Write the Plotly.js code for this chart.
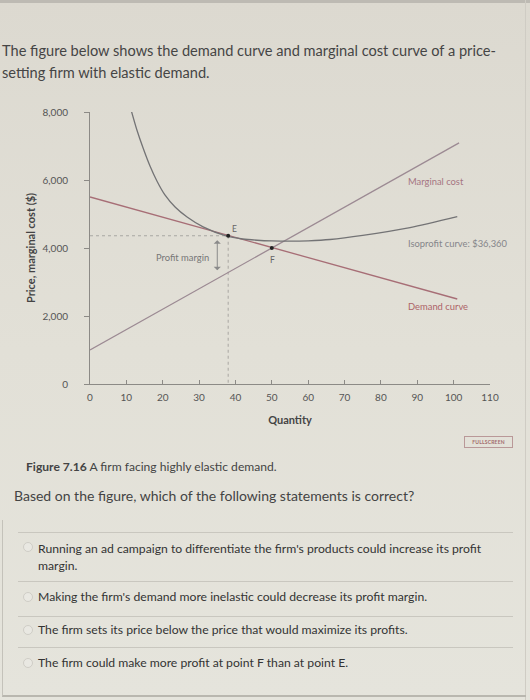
<!DOCTYPE html>
<html>
<head>
<meta charset="utf-8">
<script src="https://cdn.plot.ly/plotly-3.0.1.min.js"></script>
<style>
  html, body { margin:0; padding:0; }
  body { width:530px; height:700px; overflow:hidden; position:relative;
         background: linear-gradient(180deg, #dcd9d0 0%, #e2e0d7 50%, #e5e4dc 100%);
         font-family: Lato, "Open Sans", sans-serif; }
  #plot { position:absolute; left:0; top:0; width:530px; height:700px; }
  .t { position:absolute; white-space:nowrap; color:#3f3f3f; }
  .sep { position:absolute; height:1px; background:#c9c7bf; }
  .radio { position:absolute; width:8px; height:8px; border-radius:50%; border:1px solid #cfcdc6; background:#e9e8e2; }
</style>
</head>
<body>
<div id="plot"></div>
<div style="position:absolute;left:0;top:0;width:530px;height:3px;background:#bdbab3;"></div>
<div style="position:absolute;left:525px;top:0;width:1px;height:700px;background:#cfccc4;"></div>
<div class="t" style="left:2px;top:40px;font-size:14.6px;line-height:22px;color:#454545;">The figure below shows the demand curve and marginal cost curve of a price-<br>setting firm with elastic demand.</div>
<div style="position:absolute;left:464px;top:436px;width:47px;height:10px;border:1px solid #b99898;font-size:5px;line-height:10px;color:#a26c6c;text-align:center;font-weight:bold;letter-spacing:0.2px;">FULLSCREEN</div>
<div class="t" style="left:26px;top:459px;font-size:12.1px;color:#444;"><b>Figure 7.16</b> A firm facing highly elastic demand.</div>
<div class="t" style="left:14px;top:487px;font-size:14px;color:#444;">Based on the figure, which of the following statements is correct?</div>
<div style="position:absolute;left:2px;top:520px;width:523px;height:175px;border-left:1px solid #c4c2ba;border-bottom:2px solid #b9b7af;"></div>
<div class="sep" style="left:18px;top:532px;width:495px;"></div>
<div class="sep" style="left:18px;top:581px;width:495px;"></div>
<div class="sep" style="left:18px;top:616px;width:495px;"></div>
<div class="sep" style="left:18px;top:647px;width:495px;"></div>
<div class="radio" style="left:23px;top:542px;"></div>
<div class="radio" style="left:23px;top:592px;"></div>
<div class="radio" style="left:23px;top:625px;"></div>
<div class="radio" style="left:23px;top:658px;"></div>
<div class="t" style="left:38px;top:540px;font-size:12.2px;line-height:17px;color:#333;">Running an ad campaign to differentiate the firm's products could increase its profit<br>margin.</div>
<div class="t" style="left:38px;top:589px;font-size:12.2px;color:#333;">Making the firm's demand more inelastic could decrease its profit margin.</div>
<div class="t" style="left:38px;top:622px;font-size:12.2px;color:#333;">The firm sets its price below the price that would maximize its profits.</div>
<div class="t" style="left:38px;top:655px;font-size:12.2px;color:#333;">The firm could make more profit at point F than at point E.</div>
<script>
// ---- data ----
const demandQ = [0, 101];
const demandP = [5500, 2500];
const mcQ = [0, 101.5];
const mcP = [1000, 7090];
const isoQ = [11.3, 12.9, 14.6, 16.5, 18.4, 20.6, 23.4, 26.7, 31.1, 37.4, 42, 46, 50, 55, 60, 66, 75, 88, 101];
const isoP = [8060, 7470, 6940, 6410, 5970, 5560, 5205, 4910, 4620, 4355, 4265, 4228, 4208, 4200, 4212, 4250, 4370, 4600, 4920];
const pointE = {q: 38, p: 4360};
const pointF = {q: 50, p: 4000};
const marginTop = 4230, marginBottom = 3300, marginQ = 35;
const xTicks = [0,10,20,30,40,50,60,70,80,90,100,110];
const yTicks = [0,2000,4000,6000,8000];
const yTickText = ['0','2,000','4,000','6,000','8,000'];

const traces = [
  {x:[0, pointE.q], y:[pointE.p, pointE.p], mode:'lines', line:{color:'#a9a7a2', width:1, dash:'dot'}, hoverinfo:'skip'},
  {x:[pointE.q, pointE.q], y:[pointE.p, 0], mode:'lines', line:{color:'#a9a7a2', width:1, dash:'dot'}, hoverinfo:'skip'},
  {x:demandQ, y:demandP, mode:'lines', line:{color:'#a76e76', width:1.3}},
  {x:mcQ, y:mcP, mode:'lines', line:{color:'#9c8a93', width:1.3}},
  {x:isoQ, y:isoP, mode:'lines', line:{color:'#737375', width:1.3, shape:'spline', smoothing:0.8}},
  {x:[pointE.q, pointF.q], y:[pointE.p, pointF.p], mode:'markers', marker:{color:'#222', size:4}}
];

const small = {family:'Lato, "Open Sans", sans-serif', size:9.4};
const layout = {
  width:530, height:700,
  margin:{l:90, r:40, t:112, b:316},
  paper_bgcolor:'rgba(0,0,0,0)', plot_bgcolor:'rgba(0,0,0,0)',
  showlegend:false,
  font:{family:'Lato, "Open Sans", sans-serif', color:'#555'},
  xaxis:{range:[0,110], tickvals:xTicks, ticktext:xTicks.map(String), showgrid:false, zeroline:false,
         showline:true, linecolor:'#8c8a86', linewidth:1, ticks:'inside', ticklen:4, tickcolor:'#8c8a86',
         tickfont:{size:10, color:'#555'}, ticklabelstandoff:4,
         title:{text:'<b>Quantity</b>', font:{size:11, color:'#444'}, standoff:14}},
  yaxis:{range:[0,8000], tickvals:yTicks, ticktext:yTickText, showgrid:false, zeroline:false,
         showline:true, linecolor:'#8c8a86', linewidth:1, ticks:'outside', ticklen:5, tickcolor:'#8c8a86',
         tickfont:{size:10, color:'#555'}, ticklabelstandoff:14},
  annotations:[
    {xref:'paper', yref:'paper', x:0, y:0.5, xshift:-60, text:'<b>Price, marginal cost ($)</b>', textangle:-90,
     showarrow:false, font:{size:11, color:'#444'}, xanchor:'center', yanchor:'middle'},
    {x:87, y:5970, text:'Marginal cost', showarrow:false, xanchor:'left', font:Object.assign({}, small, {color:'#a57582'})},
    {x:87, y:4147, text:'Isoprofit curve: $36,360', showarrow:false, xanchor:'left', font:Object.assign({}, small, {color:'#85858a'})},
    {x:87, y:2265, text:'Demand curve', showarrow:false, xanchor:'left', font:Object.assign({}, small, {color:'#ad6468'})},
    {x:pointE.q, y:pointE.p, text:'E', showarrow:false, xshift:6, yshift:7, font:Object.assign({}, small, {size:8.5, color:'#666'})},
    {x:pointF.q, y:pointF.p, text:'F', showarrow:false, xshift:1, yshift:-12, font:Object.assign({}, small, {size:8.5, color:'#666'})},
    {x:25.4, y:3735, text:'Profit margin', showarrow:false, font:Object.assign({}, small, {color:'#777'})},
    {x:marginQ, y:marginTop, ax:marginQ, ay:marginBottom, axref:'x', ayref:'y', text:'', showarrow:true,
     arrowhead:1, startarrowhead:1, arrowside:'end+start', arrowsize:1.2, arrowwidth:1, arrowcolor:'#8a8a8a'}
  ]
};
Plotly.newPlot('plot', traces, layout, {staticPlot:true, displayModeBar:false});
</script>
</body>
</html>
